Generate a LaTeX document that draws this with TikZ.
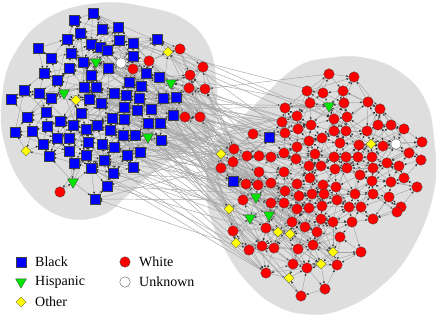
\documentclass[tikz,border=0pt]{standalone}
\usepackage{fontspec}
\setmainfont{Liberation Serif}
\usetikzlibrary{shapes.geometric,arrows.meta}
\pgfdeclarelayer{blobs}\pgfdeclarelayer{edges}
\pgfsetlayers{blobs,edges,main}
\definecolor{cB}{RGB}{0,0,255}
\definecolor{cR}{RGB}{255,0,0}
\definecolor{cG}{RGB}{0,230,0}
\definecolor{cY}{RGB}{255,255,0}
\definecolor{cE}{RGB}{165,165,165}
\definecolor{cBlob}{RGB}{222,222,222}
\definecolor{cBlobE}{RGB}{226,230,218}
\tikzset{
 nd/.style={draw=black!75,line width=0.3pt,inner sep=0pt,outer sep=0pt},
 stB/.style={nd,rectangle,fill=cB,minimum size=9.5pt},
 stR/.style={nd,circle,fill=cR,minimum size=10.5pt},
 stW/.style={nd,circle,fill=white,minimum size=10.5pt},
 stY/.style={nd,diamond,fill=cY,minimum size=10pt},
 stG/.style={nd,regular polygon,regular polygon sides=3,shape border rotate=180,fill=cG,minimum size=12.5pt},
 edge/.style={draw=cE,line width=0.45pt,-{Latex[length=2.4pt,width=2.2pt,color=black!80]}},
 blob/.style={fill=cBlob,draw=cBlobE,line width=0.5pt},
 lab/.style={anchor=west,font=\fontsize{14}{16}\selectfont,inner sep=0pt},
}
\begin{document}
\begin{tikzpicture}[x=1pt,y=-1pt]
\useasboundingbox (0,0) rectangle (436,336);
\begin{pgfonlayer}{blobs}
\path[blob] plot[smooth cycle,tension=0.7] coordinates {(100,3) (150,8) (185,20) (208,45) (216,80) (216,115) (210,138) (190,150) (160,167) (130,193) (100,216) (60,216) (25,188) (5,145) (2,100) (14,55) (48,18)};
\path[blob] plot[smooth cycle,tension=0.7] coordinates {(330,58) (365,58) (400,72) (425,100) (434,140) (434,190) (413,247) (380,287) (340,310) (305,314) (275,305) (250,285) (228,255) (210,215) (207,175) (212,148) (235,125) (263,97) (297,67)};
\end{pgfonlayer}
% nodes
\foreach \t/\x/\y [count=\i] in {
B/93/13, B/74/20, B/118/27, B/102/29, B/80/33, B/67/39, B/157/39, B/119/40, B/133/43, B/91/44,
B/100/47, B/38/48, Y/168/52, B/71/53, B/133/56, B/51/58, B/107/50, R/180/49, R/149/61, G/96/62,
B/83/62, W/121/63, R/203/67, B/69/68, B/108/68, R/133/69, B/44/73, B/91/75, R/190/75, B/146/73,
B/159/77, B/57/80, B/129/82, G/171/83, B/141/86, B/84/87, B/96/87, R/189/88, R/205/89, B/24/90,
B/39/93, G/64/93, B/114/93, B/126/95, B/11/99, B/51/98, B/89/99, B/139/98, B/163/98, B/176/97,
Y/76/100, B/101/103, B/124/107, B/137/110, B/151/109, B/46/112, B/81/113, B/173/115, R/185/117, R/200/117,
B/27/117, B/112/118, B/124/119, B/60/121, B/73/125, B/97/125, B/47/126, B/148/123, B/160/123, B/86/129,
B/110/130, B/32/131, B/15/132, B/123/135, B/135/135, G/148/137, B/57/138, B/69/138, B/161/140, B/88/142,
B/43/144, B/102/144, B/114/147, B/69/151, Y/26/151, B/140/152, B/86/155, B/127/155, B/49/156, B/104/160,
B/74/163, B/133/167, B/91/168, B/113/173, G/73/182, B/107/186, R/60/192, B/95/199,
R/329/74, R/354/77, R/307/91, R/343/91, R/323/93, R/368/102, R/310/103, R/344/103, G/329/106, R/285/108,
R/380/109, R/297/116, R/347/117, R/334/119, R/282/122, R/378/125, R/391/125, R/311/125, R/404/129, R/298/129,
R/367/131, R/334/131, R/346/131, R/253/134, R/285/133, B/269/137, R/322/138, R/309/141, R/340/143, R/422/142,
Y/371/144, W/396/144, R/359/145, R/383/146, R/297/147, R/234/149, R/284/153, R/409/153, Y/221/154, R/315/154,
R/247/156, R/259/156, R/271/157, R/334/157, R/346/157, R/358/157, R/372/157, R/296/159, R/421/160, R/233/162,
R/387/163, R/309/166, R/321/166, R/399/166, R/221/168, R/347/168, R/335/169, R/373/168, R/259/172, R/284/172,
R/360/175, R/310/178, R/404/178, B/233/181, R/372/181, R/391/182, R/271/183, R/246/184, R/297/184, R/258/185,
R/323/185, R/336/187, R/417/187, R/285/191, R/312/194, R/324/194, R/355/194, R/373/194, R/299/196, G/256/197,
R/389/197, R/337/200, R/243/200, R/271/203, R/284/203, R/322/206, R/349/207, R/361/207, R/401/207, R/309/208,
R/297/209, Y/229/209, R/397/212, G/269/215, G/250/218, R/373/219, R/321/219, R/292/222, R/333/222, R/352/222,
R/305/227, R/266/228, R/233/231, Y/278/232, R/317/232, Y/290/234, R/340/237, Y/236/243, R/262/246, R/313/245,
R/274/248, R/298/249, R/249/250, Y/333/252, R/361/252, R/293/264, Y/321/264, R/337/265, R/307/268, R/266/273,
Y/289/278, R/325/289, R/301/296}
 \node[st\t] (n\i) at (\x,\y) {};
% edges
\begin{pgfonlayer}{edges}
\foreach \i in {1,...,220}{
  \foreach \k in {1,...,16}{
    \pgfmathtruncatemacro\j{\i+\k}
    \ifnum\j<222
      \pgfpointdiff{\pgfpointanchor{n\i}{center}}{\pgfpointanchor{n\j}{center}}%
      \pgfgetlastxy\dx\dy
      \pgfmathsetmacro\dd{veclen(\dx,\dy)}%
      \ifdim\dd pt<32pt
        \ifodd\k \draw[edge] (n\i) -- (n\j); \else \draw[edge] (n\j) -- (n\i); \fi
      \fi
    \fi
  }
}
\pgfmathsetseed{7}
\foreach \r in {1,...,170}{
  \pgfmathrandominteger{\a}{1}{98}\pgfmathrandominteger{\b}{1}{98}
  \ifnum\a=\b\else
    \pgfpointdiff{\pgfpointanchor{n\a}{center}}{\pgfpointanchor{n\b}{center}}%
    \pgfgetlastxy\dx\dy
    \pgfmathsetmacro\dd{veclen(\dx,\dy)}%
    \ifdim\dd pt<80pt \draw[edge] (n\a) -- (n\b); \fi
  \fi
}
\foreach \r in {1,...,230}{
  \pgfmathrandominteger{\a}{99}{221}\pgfmathrandominteger{\b}{99}{221}
  \ifnum\a=\b\else
    \pgfpointdiff{\pgfpointanchor{n\a}{center}}{\pgfpointanchor{n\b}{center}}%
    \pgfgetlastxy\dx\dy
    \pgfmathsetmacro\dd{veclen(\dx,\dy)}%
    \ifdim\dd pt<70pt \draw[edge] (n\a) -- (n\b); \fi
  \fi
}
\foreach \r in {1,...,300}{
  \pgfmathrandominteger{\a}{1}{98}\pgfmathrandominteger{\b}{99}{221}
  \pgfpointanchor{n\a}{center}\pgfgetlastxy\ax\ay
  \pgfpointanchor{n\b}{center}\pgfgetlastxy\bx\by
  \ifdim\ax>75pt
    \ifdim\bx<335pt
      \ifodd\r \draw[edge] (n\a) -- (n\b); \else \draw[edge] (n\b) -- (n\a); \fi
    \fi
  \fi
}
\end{pgfonlayer}
% legend
\node[stB] (lb) at (21,262) {};
\node[lab] (tb) at (35,262) {Black};
\node[stG] (lg) at (21,282) {};
\node[lab] (tg) at (35,282) {Hispanic};
\node[stY] (ly) at (21,302) {};
\node[lab] (ty) at (35,302) {Other};
\node[stR] (lr) at (125,262) {};
\node[lab] (tr) at (139,262) {White};
\node[stW] (lw) at (125,282) {};
\node[lab] (tw) at (139,282) {Unknown};
\end{tikzpicture}
\end{document}
